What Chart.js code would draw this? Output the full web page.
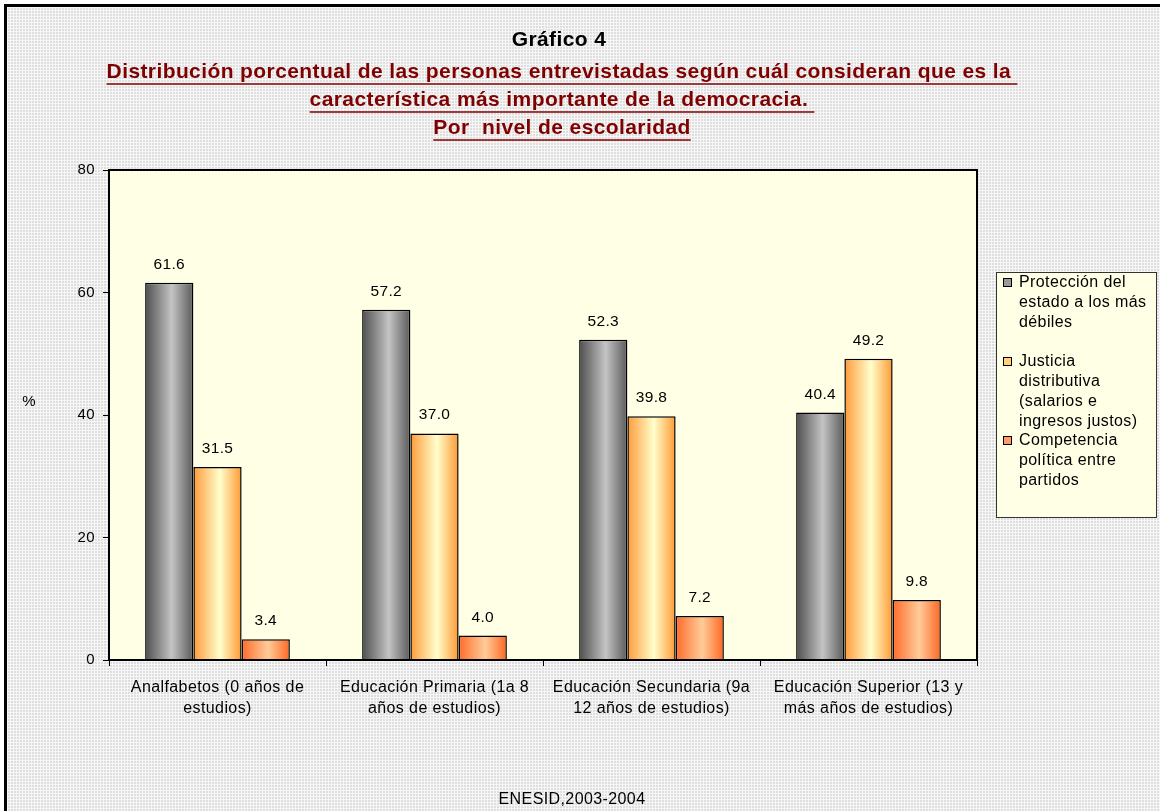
<!DOCTYPE html>
<html>
<head>
<meta charset="utf-8">
<script src="https://cdn.jsdelivr.net/npm/chart.js@4.4.0/dist/chart.umd.min.js"></script>
<style>
  html, body { margin:0; padding:0; background:#fff; overflow:hidden; }
  #frame {
    position:absolute; left:4px; top:4px; width:1200px; height:900px;
    border-left:3px solid #000; border-top:3px solid #000;
    background-color:#dedede;
    background-image: linear-gradient(90deg, #f6f6f6 1px, transparent 1px), linear-gradient(#f6f6f6 1px, transparent 1px);
    background-size:3px 3px;
  }
  #wrap { position:absolute; left:0; top:0; width:1160px; height:811px; }
</style>
</head>
<body>
<div id="frame"></div>
<div id="wrap"><canvas id="c" width="1160" height="811"></canvas></div>
<script>
// --- data ---
const categories = [
  ['Analfabetos (0 años de', 'estudios)'],
  ['Educación Primaria (1a 8', 'años de estudios)'],
  ['Educación Secundaria (9a', '12 años de estudios)'],
  ['Educación Superior (13 y', 'más años de estudios)'],
];
const seriesNames = ['Protección del estado a los más débiles', 'Justicia distributiva (salarios e ingresos justos)', 'Competencia política entre partidos'];
const legendLines = [
  ['Protección del', 'estado a los más', 'débiles'],
  ['Justicia', 'distributiva', '(salarios e', 'ingresos justos)'],
  ['Competencia', 'política entre', 'partidos'],
];
const proteccion = [61.6, 57.2, 52.3, 40.4];
const justicia = [31.5, 37.0, 39.8, 49.2];
const competencia = [3.4, 4.0, 7.2, 9.8];
const yTicks = [0, 20, 40, 60, 80];
const titleMain = 'Gráfico 4';
const subtitleLines = [
  'Distribución porcentual de las personas entrevistadas según cuál consideran que es la ',
  'característica más importante de la democracia. ',
  'Por  nivel de escolaridad',
];
const sourceText = 'ENESID,2003-2004';

const FONT = "'Liberation Sans', Arial, sans-serif";
// gradient stops per series: edge, centre, edge
const GRAD = [
  ['#4e4e4e', '#c4c4c4', '#5a5a5a'],
  ['#ff9a3a', '#ffffcc', '#ff9933'],
  ['#ff6a2a', '#ffcc99', '#ff6622'],
];
const SWATCH = ['#9a9a9a', '#ffd27a', '#ff9a6a'];
const CAT_PCT = 0.667;

function barFill(ctx) {
  const chart = ctx.chart;
  const area = chart.chartArea;
  const ds = ctx.datasetIndex;
  if (!area || ctx.dataIndex == null) return GRAD[ds][1];
  const cw = (area.right - area.left) / categories.length;
  const bw = cw * CAT_PCT / 3;
  const cx = area.left + (ctx.dataIndex + 0.5) * cw + (ds - 1) * bw;
  const g = chart.ctx.createLinearGradient(cx - bw / 2, 0, cx + bw / 2, 0);
  g.addColorStop(0, GRAD[ds][0]);
  g.addColorStop(0.55, GRAD[ds][1]);
  g.addColorStop(1, GRAD[ds][2]);
  return g;
}

const decor = {
  id: 'decor',
  beforeDraw(chart) {
    chart.ctx.letterSpacing = '0.4px';
  },
  beforeDatasetsDraw(chart) {
    const { ctx, chartArea: a } = chart;
    ctx.save();
    ctx.fillStyle = '#ffffe6';
    ctx.fillRect(a.left, a.top, a.right - a.left, a.bottom - a.top);
    ctx.restore();
  },
  afterDatasetsDraw(chart) {
    const { ctx, chartArea: a } = chart;
    ctx.save();
    // plot border
    ctx.strokeStyle = '#000';
    ctx.lineWidth = 2;
    ctx.strokeRect(a.left, a.top, a.right - a.left, a.bottom - a.top);

    // value labels
    ctx.fillStyle = '#000';
    ctx.font = '15.5px ' + FONT;
    ctx.letterSpacing = '0.3px';
    ctx.textAlign = 'center';
    ctx.textBaseline = 'alphabetic';
    chart.data.datasets.forEach((d, i) => {
      chart.getDatasetMeta(i).data.forEach((el, j) => {
        ctx.fillText(d.data[j].toFixed(1), el.x, el.y - 14);
      });
    });

    // titles
    ctx.textBaseline = 'middle';
    ctx.letterSpacing = '0.4px';
    ctx.font = 'bold 21px ' + FONT;
    ctx.fillText(titleMain, 559, 40);
    ctx.fillStyle = '#800000';
    ctx.strokeStyle = '#800000';
    ctx.lineWidth = 1.6;
    subtitleLines.forEach((t, i) => {
      const y = 72 + i * 28;
      const w = ctx.measureText(t).width;
      const cx = 562;
      ctx.fillText(t, cx, y);
      ctx.beginPath();
      ctx.moveTo(cx - w / 2, y + 12);
      ctx.lineTo(cx + w / 2, y + 12);
      ctx.stroke();
    });

    // axis unit and source
    ctx.fillStyle = '#000';
    ctx.letterSpacing = '0.4px';
    ctx.font = '15px ' + FONT;
    ctx.fillText('%', 29, 402);
    ctx.font = '16px ' + FONT;
    ctx.fillText(sourceText, 572, 800);

    // legend
    const lx = 996, ly = 272, lw = 160, lh = 245;
    ctx.fillStyle = '#ffffe6';
    ctx.fillRect(lx, ly, lw, lh);
    ctx.strokeStyle = '#333';
    ctx.lineWidth = 1;
    ctx.strokeRect(lx + 0.5, ly + 0.5, lw, lh);
    ctx.textAlign = 'left';
    ctx.letterSpacing = '0.4px';
    ctx.font = '16px ' + FONT;
    const starts = [283, 362, 441];
    legendLines.forEach((lines, i) => {
      const y0 = starts[i];
      ctx.fillStyle = SWATCH[i];
      ctx.fillRect(1003, y0 - 5, 9, 9);
      ctx.strokeStyle = '#000';
      ctx.strokeRect(1003.5, y0 - 4.5, 8, 8);
      ctx.fillStyle = '#000';
      lines.forEach((t, k) => ctx.fillText(t, 1019, y0 + k * 19.8));
    });
    ctx.restore();
  }
};

new Chart(document.getElementById('c'), {
  type: 'bar',
  data: {
    labels: categories,
    datasets: [
      { label: seriesNames[0], data: proteccion },
      { label: seriesNames[1], data: justicia },
      { label: seriesNames[2], data: competencia },
    ].map(d => Object.assign(d, {
      backgroundColor: barFill,
      borderColor: '#000',
      borderWidth: 1.5,
      borderSkipped: 'bottom',
      categoryPercentage: CAT_PCT,
      barPercentage: 1,
    })),
  },
  options: {
    responsive: false,
    animation: false,
    events: [],
    layout: { padding: { top: 170, right: 183, left: 0, bottom: 0 } },
    plugins: { legend: { display: false }, tooltip: { enabled: false }, title: { display: false } },
    scales: {
      x: {
        afterFit: s => { s.height = 151; },
        grid: { offset: true, drawOnChartArea: false, tickLength: 6, color: '#000', lineWidth: 1 },
        border: { color: '#000', width: 2 },
        ticks: { color: '#000', font: { family: FONT, size: 16, lineHeight: 1.3 }, padding: 11, maxRotation: 0, autoSkip: false },
      },
      y: {
        min: 0, max: 80,
        afterFit: s => { s.width = 109; },
        afterBuildTicks: s => { s.ticks = yTicks.map(v => ({ value: v })); },
        grid: { drawOnChartArea: false, tickLength: 6, color: '#000', lineWidth: 1 },
        border: { color: '#000', width: 2 },
        ticks: { color: '#000', font: { family: FONT, size: 15 }, padding: 8 },
      },
    },
  },
  plugins: [decor],
});
</script>
</body>
</html>
